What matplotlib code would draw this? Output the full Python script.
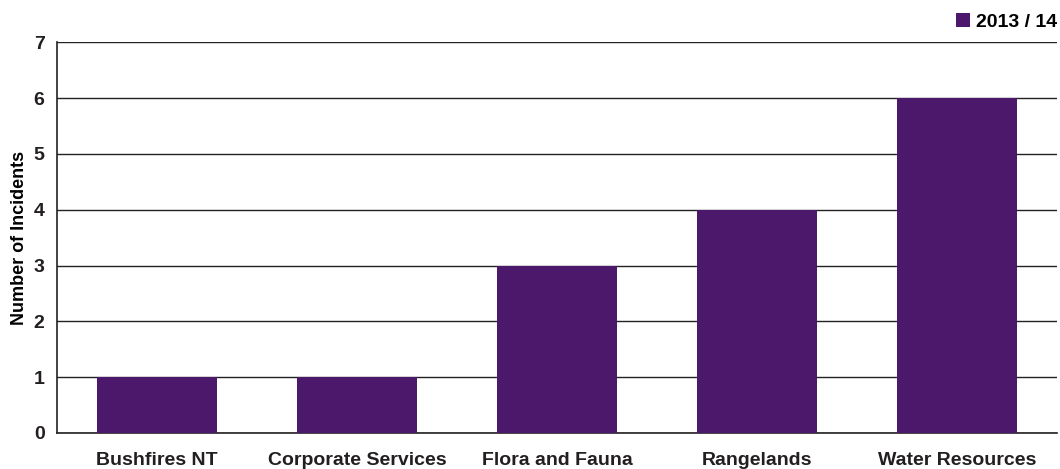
import matplotlib.pyplot as plt
from matplotlib.patches import Patch

divisions = ['Bushfires NT', 'Corporate Services', 'Flora and Fauna', 'Rangelands', 'Water Resources']
incidents = [1, 1, 3, 4, 6]
series_label = '2013 / 14'
bar_color = '#4B186C'

plt.rcParams['font.family'] = ['Liberation Sans', 'DejaVu Sans']
plt.rcParams['font.weight'] = 'bold'

fig = plt.figure(figsize=(10.6, 4.69), dpi=100)
ax = fig.add_axes([0.0538, 0.0768, 0.9432, 0.8332])

x = range(len(divisions))
ax.bar(x, incidents, width=0.6, color=bar_color, zorder=3)

ax.set_xlim(-0.5, len(divisions) - 0.5)
ax.set_ylim(0, 7)
ax.set_yticks(range(0, 8))
ax.yaxis.grid(True, color='#222222', linewidth=1.0, zorder=0)
ax.set_xticks(list(x))
ax.set_xticklabels(divisions, fontsize=14, fontweight='bold')
ax.tick_params(axis='both', length=0, labelsize=14, colors='#231f20')
ax.tick_params(axis='x', pad=14)
ax.tick_params(axis='y', pad=9)

for side in ['top', 'right']:
    ax.spines[side].set_visible(False)
for side in ['left', 'bottom']:
    ax.spines[side].set_color('#222222')
    ax.spines[side].set_linewidth(1.2)

ax.set_ylabel('Number of Incidents', fontsize=13, fontweight='bold', labelpad=4)

handles = [Patch(facecolor=bar_color, label=series_label)]
ax.legend(handles=handles, loc='lower right', bbox_to_anchor=(1.012, 1.0),
          frameon=False, fontsize=14, handlelength=0.75, handleheight=0.75,
          handletextpad=0.3, borderaxespad=0.2)

fig.savefig('out.png', dpi=100)
